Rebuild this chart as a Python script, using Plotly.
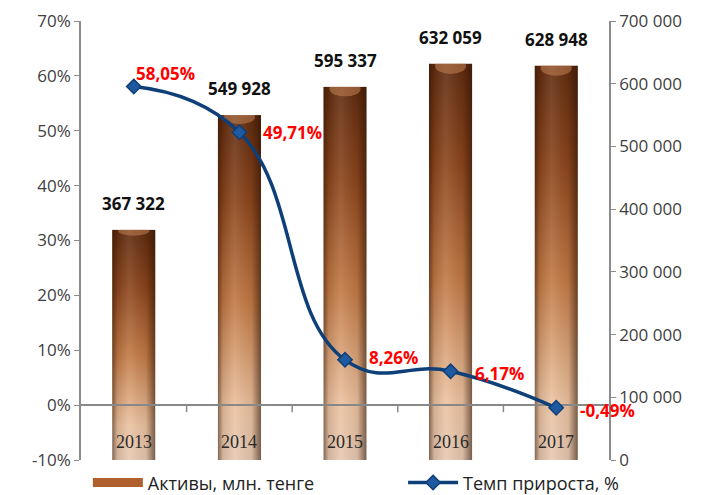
import base64
import plotly.graph_objects as go

years = ["2013", "2014", "2015", "2016", "2017"]
assets = [367322, 549928, 595337, 632059, 628948]
growth = [58.05, 49.71, 8.26, 6.17, -0.49]
growth_labels = ["58,05%", "49,71%", "8,26%", "6,17%", "-0,49%"]
asset_labels = ["367 322", "549 928", "595 337", "632 059", "628 948"]
pct_tick_vals = [-10, 0, 10, 20, 30, 40, 50, 60, 70]
pct_tick_text = ["-10%", "0%", "10%", "20%", "30%", "40%", "50%", "60%", "70%"]
asset_name = "Активы, млн. тенге"
growth_name = "Темп прироста, %"

FONT = "Open Sans"
BAR_W = 0.41

svg = """<svg xmlns='http://www.w3.org/2000/svg' viewBox='0 0 100 100' preserveAspectRatio='none'>
<defs>
<linearGradient id='v' x1='0' y1='0' x2='0' y2='1'>
<stop offset='0' stop-color='#5e2a0e'/>
<stop offset='0.25' stop-color='#8a441b'/>
<stop offset='0.55' stop-color='#c27a45'/>
<stop offset='0.85' stop-color='#ebc2a0'/>
<stop offset='1' stop-color='#e6c8b2'/>
</linearGradient>
<linearGradient id='h' x1='0' y1='0' x2='1' y2='0'>
<stop offset='0' stop-color='#2a1205' stop-opacity='0.55'/>
<stop offset='0.12' stop-color='#2a1205' stop-opacity='0.12'/>
<stop offset='0.4' stop-color='#ffffff' stop-opacity='0.10'/>
<stop offset='0.78' stop-color='#2a1205' stop-opacity='0.08'/>
<stop offset='1' stop-color='#2a1205' stop-opacity='0.6'/>
</linearGradient>
</defs>
<rect width='100' height='100' fill='url(#v)'/>
<rect width='100' height='100' fill='url(#h)'/>
<ellipse cx='50' cy='0.6' rx='36' ry='2.0' fill='#c98a5a' fill-opacity='0.5'/>
</svg>"""
svg_uri = "data:image/svg+xml;base64," + base64.b64encode(svg.encode()).decode()

fig = go.Figure()

# legend entry for bars: wide brown swatch
fig.add_trace(go.Scatter(
    x=[None], y=[None], yaxis="y", name=asset_name, mode="lines",
    line=dict(color="#b0602c", width=9), legend="legend",
))
# real bars on primary (right-side) axis; gradient supplied by images below
fig.add_trace(go.Bar(
    x=years, y=assets, yaxis="y", width=BAR_W,
    marker=dict(color="rgba(0,0,0,0)", line=dict(width=0)),
    showlegend=False, name=asset_name,
))
fig.add_trace(go.Scatter(
    x=years, y=growth, yaxis="y2", name=growth_name, mode="lines+markers",
    line=dict(color="#0e3f78", width=3.5, shape="spline", smoothing=1.3),
    marker=dict(symbol="diamond", size=11, color="#1f5aa0", line=dict(color="#0e3f78", width=1.5)),
    legend="legend2",
))

images = []
for i, v in enumerate(assets):
    images.append(dict(
        source=svg_uri, xref="x", yref="y", x=i, y=v, sizex=BAR_W, sizey=v,
        xanchor="center", yanchor="top", sizing="stretch", layer="below",
    ))

ann = []
for i, (v, t) in enumerate(zip(assets, asset_labels)):
    ann.append(dict(x=i, y=v, xref="x", yref="y", text=t, showarrow=False,
                    yanchor="bottom", yshift=13,
                    font=dict(family=FONT, size=17, color="#111111", weight="bold")))
label_shift = [(0, 13), (22, 0), (22, 2), (22, -2), (22, -3)]
for i, (g, t) in enumerate(zip(growth, growth_labels)):
    xs, ys = label_shift[i]
    ann.append(dict(x=i, y=g, xref="x", yref="y2", text=t, showarrow=False,
                    xanchor="left", xshift=xs, yshift=ys,
                    font=dict(family=FONT, size=17, color="#ff0000", weight="bold")))
for i, yr in enumerate(years):
    ann.append(dict(x=i, y=-10, xref="x", yref="y2", text=yr, showarrow=False,
                    yanchor="bottom", yshift=6,
                    font=dict(family="Liberation Serif", size=18, color="#2a2a2a")))

shapes = []
for i in range(len(years) - 1):
    shapes.append(dict(type="line", xref="x", yref="y2", x0=i + 0.5, x1=i + 0.5,
                       ysizemode="pixel", yanchor=0, y0=0, y1=-7,
                       line=dict(color="#888888", width=1.5)))

legend_common = dict(orientation="h", y=-0.052, yanchor="middle",
                     font=dict(family=FONT, size=18, color="#222222"),
                     itemwidth=50, bgcolor="rgba(0,0,0,0)")

# page body has an 8px default margin: the figure is sized to fit the 704x495 window
fig.update_layout(
    width=696, height=487,
    margin=dict(l=73, r=95, t=13, b=35, autoexpand=False),
    paper_bgcolor="white", plot_bgcolor="white",
    separators=", ",
    barmode="overlay",
    font=dict(family=FONT, size=17, color="#404040"),
    xaxis=dict(type="category", showticklabels=False, ticks="", showline=False,
               showgrid=False, zeroline=False, range=[-0.5, 4.5]),
    yaxis=dict(range=[0, 700000], dtick=100000, tickformat=",d",
               side="right", showgrid=False, zeroline=False,
               showline=True, linecolor="#8c8c8c", linewidth=1.5,
               ticks="outside", ticklen=5, tickcolor="#8c8c8c",
               ticklabeloverflow="allow",
               tickfont=dict(family=FONT, size=17, color="#404040")),
    yaxis2=dict(range=[-10, 70], tickvals=pct_tick_vals, ticktext=pct_tick_text,
                overlaying="y", side="left", showgrid=False,
                showline=True, linecolor="#8c8c8c", linewidth=1.5,
                ticks="outside", ticklen=5, tickcolor="#8c8c8c",
                ticklabeloverflow="allow",
                zeroline=True, zerolinecolor="#888888", zerolinewidth=2,
                tickfont=dict(family=FONT, size=17, color="#404040")),
    legend=dict(x=0.013, xanchor="left", **legend_common),
    legend2=dict(x=0.61, xanchor="left", **legend_common),
    images=images,
    annotations=ann,
    shapes=shapes,
)

fig.write_html("out.html")
